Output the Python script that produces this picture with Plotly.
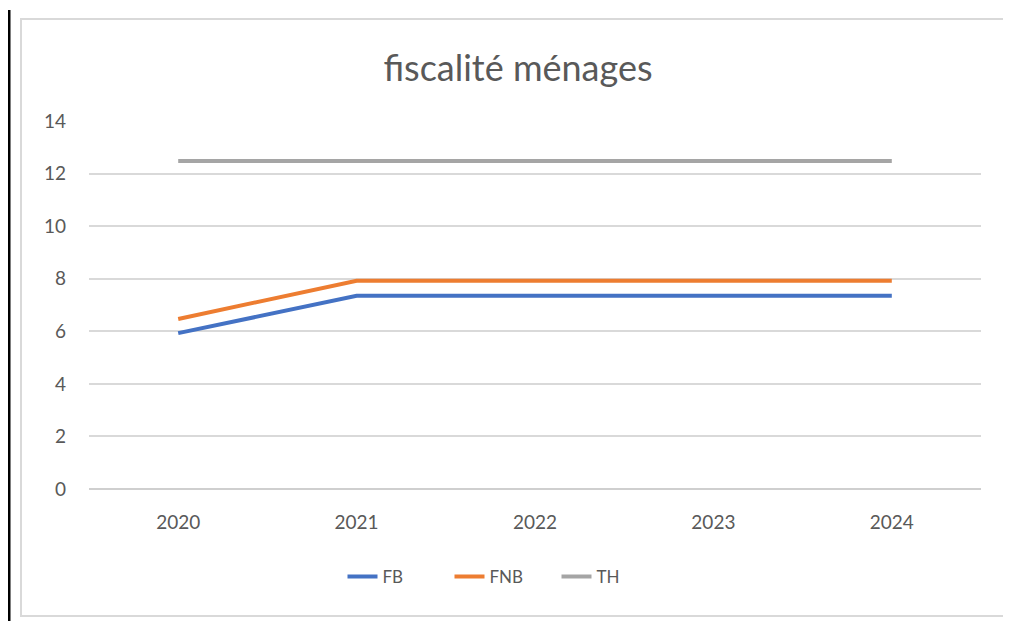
import plotly.graph_objects as go

years = ["2020", "2021", "2022", "2023", "2024"]
fb = [5.93, 7.35, 7.35, 7.35, 7.35]
fnb = [6.47, 7.92, 7.92, 7.92, 7.92]
th = [12.48, 12.48, 12.48, 12.48, 12.48]
y_ticks = [0, 2, 4, 6, 8, 10, 12, 14]

OFF = 8  # page body margin
W, H = 1011 - OFF, 621 - OFF
L, R, T, B = 89 - OFF, 981 - OFF, 121 - OFF, 489 - OFF
pw, ph = R - L, B - T

def px(x):
    return (x - OFF - L) / pw

def py(y):
    return (B - (y - OFF)) / ph

fig = go.Figure()
for name, vals, col in [("FB", fb, "#4472C4"), ("FNB", fnb, "#ED7D31"), ("TH", th, "#A5A5A5")]:
    fig.add_trace(go.Scatter(x=years, y=vals, mode="lines", name=name,
                             line=dict(color=col, width=4)))

fig.update_layout(
    width=W, height=H,
    margin=dict(l=L, r=W - R, t=T, b=H - B, autoexpand=False),
    paper_bgcolor="white", plot_bgcolor="white",
    font=dict(family="Lato, Open Sans, sans-serif", color="#595959", size=18),
    title=dict(text="fiscalité ménages", xref="container", x=(518 - OFF) / W, xanchor="center",
               yref="container", y=1 - (68 - OFF) / H, yanchor="middle",
               font=dict(size=36, color="#595959")),
    xaxis=dict(type="category", range=[-0.5, 4.5], showgrid=False, showline=False,
               ticks="", ticklabelstandoff=20, tickfont=dict(size=19)),
    yaxis=dict(range=[0, 14], tickvals=y_ticks, showgrid=True, gridcolor="#d9d9d9",
               gridwidth=1.5, zeroline=True, zerolinecolor="#cfcfcf", zerolinewidth=1.5,
               showline=False, ticks="", ticklabelstandoff=22, tickfont=dict(size=19)),
    legend=dict(orientation="h", x=px(503), xanchor="center", y=py(577), yanchor="middle",
                font=dict(size=17, color="#595959"), traceorder="normal",
                entrywidth=62, entrywidthmode="pixels"),
    showlegend=True,
    shapes=[
        dict(type="rect", xref="paper", yref="paper", x0=px(21), x1=px(1006),
             y0=py(616), y1=py(19), line=dict(color="#d9d9d9", width=2), layer="below"),
        dict(type="line", xref="paper", yref="paper", x0=px(9), x1=px(9),
             y0=py(625), y1=py(10), line=dict(color="black", width=3)),
    ],
)

fig.write_html("out.html")
